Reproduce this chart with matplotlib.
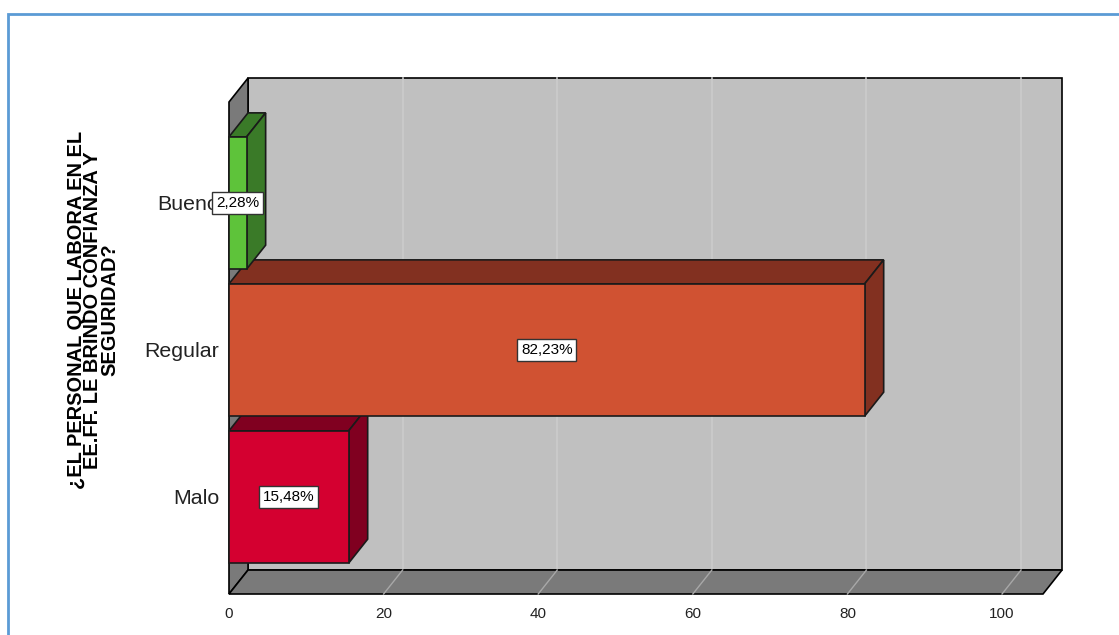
import matplotlib.pyplot as plt
from matplotlib.patches import Polygon, Rectangle

plt.rcParams['font.family'] = ['Liberation Sans', 'DejaVu Sans']

# datos de la pregunta
categorias = ['Malo', 'Regular', 'Bueno']
porcentajes = [15.48, 82.23, 2.28]
etiquetas = ['15,48%', '82,23%', '2,28%']
colores_frente = ['#d40030', '#d05232', '#5ec33a']
colores_lado = ['#800020', '#823020', '#3a7a28']
ticks_x = [0, 20, 40, 60, 80, 100]

titulo_y = '¿EL PERSONAL QUE LABORA EN EL\nEE.FF. LE BRINDO CONFIANZA Y\nSEGURIDAD?'

# geometria del efecto 3D (en unidades de datos)
x_max = 105.3
y_min, y_max = -0.66, 2.687
dx, dy = 2.46, 0.163
alto_barra = 0.9

fig = plt.figure(figsize=(11.19, 6.35), dpi=100)
W, H = 1119, 635
ax = fig.add_axes([229 / W, (H - 594) / H, (1043 - 229) / W, (594 - 102) / H])
ax.set_xlim(0, x_max)
ax.set_ylim(y_min, y_max)

pared = '#c0c0c0'
suelo = '#7a7a7a'

# pared del fondo
ax.add_patch(Rectangle((dx, y_min + dy), x_max, y_max - y_min, facecolor=pared,
                       edgecolor='black', lw=1.2, clip_on=False, zorder=1))
# pared izquierda
ax.add_patch(Polygon([(0, y_min), (dx, y_min + dy), (dx, y_max + dy), (0, y_max)],
                     facecolor=suelo, edgecolor='black', lw=1.2, clip_on=False, zorder=2))
# suelo
ax.add_patch(Polygon([(0, y_min), (x_max, y_min), (x_max + dx, y_min + dy), (dx, y_min + dy)],
                     facecolor=suelo, edgecolor='black', lw=1.2, clip_on=False, zorder=2))

# lineas de rejilla en fondo y suelo
for t in ticks_x[1:]:
    ax.plot([t + dx, t + dx], [y_min + dy, y_max + dy], color='#cbcbcb', lw=1.2,
            clip_on=False, zorder=1.5)
    ax.plot([t, t + dx], [y_min, y_min + dy], color='#a8a8a8', lw=1,
            clip_on=False, zorder=2.5)

# barras 3D, de abajo hacia arriba
for i, (v, cf, cl, et) in enumerate(zip(porcentajes, colores_frente, colores_lado, etiquetas)):
    z = 3 + i
    y0 = i - alto_barra / 2
    y1 = i + alto_barra / 2
    ax.add_patch(Polygon([(0, y1), (v, y1), (v + dx, y1 + dy), (dx, y1 + dy)],
                         facecolor=cl, edgecolor='#1a1a1a', lw=1.2, clip_on=False, zorder=z))
    ax.add_patch(Polygon([(v, y0), (v + dx, y0 + dy), (v + dx, y1 + dy), (v, y1)],
                         facecolor=cl, edgecolor='#1a1a1a', lw=1.2, clip_on=False, zorder=z))
    ax.add_patch(Rectangle((0, y0), v, alto_barra, facecolor=cf, edgecolor='#1a1a1a',
                           lw=1.2, clip_on=False, zorder=z))

for i, (v, et) in enumerate(zip(porcentajes, etiquetas)):
    ax.text(v / 2, i, et, ha='center', va='center', fontsize=11, zorder=10,
            bbox=dict(boxstyle='square,pad=0.25', facecolor='white', edgecolor='#333333', lw=1))

ax.set_xticks(ticks_x)
ax.set_xticklabels([str(t) for t in ticks_x], fontsize=11, color='#222222')
ax.set_yticks(range(len(categorias)))
ax.set_yticklabels(categorias, fontsize=15.4, color='#222222')
ax.tick_params(axis='x', length=0, pad=9)
ax.tick_params(axis='y', length=0, pad=7)
for s in ax.spines.values():
    s.set_visible(False)

fig.text(93 / W, 1 - 310 / H, titulo_y, rotation=90, ha='center', va='center',
         fontsize=14.4, fontweight='bold', linespacing=0.85, multialignment='center')

# marco azul exterior
fig.patches.append(Rectangle((8 / W, -0.1), 1.2, 1 - 14 / H + 0.1, transform=fig.transFigure,
                             facecolor='none', edgecolor='#5b9bd5', lw=2))

fig.savefig('out.png', dpi=100)
